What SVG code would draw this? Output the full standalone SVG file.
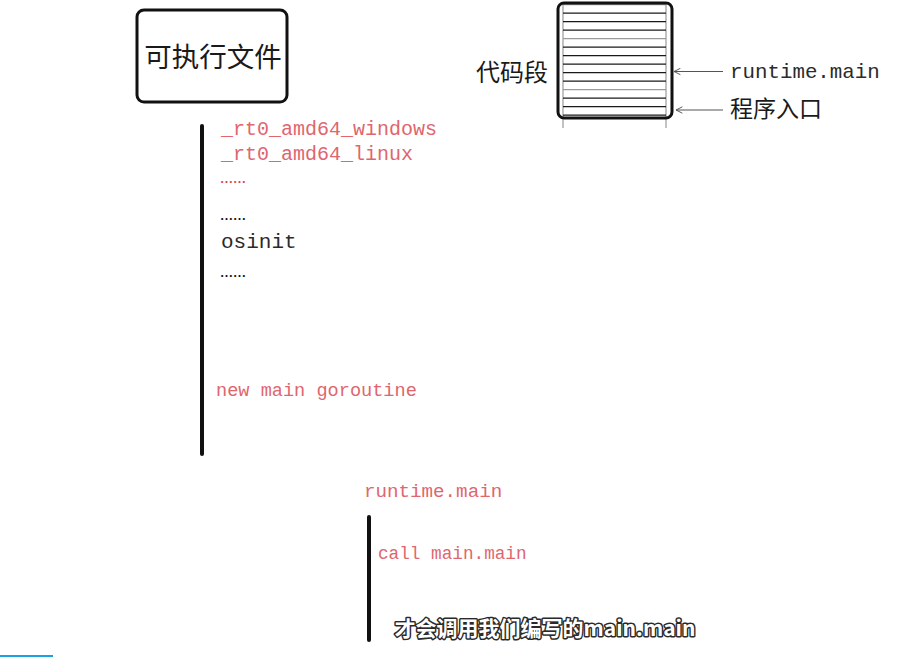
<svg xmlns="http://www.w3.org/2000/svg" width="907" height="657" viewBox="0 0 907 657">
<style>
  .mono { font-family: "Liberation Mono", "DejaVu Sans Mono", monospace; }
  .red { fill: #e0666e; }
  .dark { fill: #2b2b2b; }
  .cjk { font-family: "Noto Sans CJK SC", sans-serif; fill: #1a1a1a; }
  .dots { font-family: "Noto Sans CJK SC", sans-serif; font-weight: bold; font-size: 13px; }
  .bar { stroke: #111; stroke-width: 4; stroke-linecap: round; fill: none; }
  .hl { stroke: #1a1a1a; stroke-width: 1.2; }
  .hl2 { stroke: #9a9a9a; stroke-width: 1.2; }
  .arrow { stroke: #555; stroke-width: 1; fill: none; marker-end: url(#open); }
  .sub { font-family: "Noto Sans CJK SC", sans-serif; font-weight: bold; fill: #fff; stroke: #2a2a2a; stroke-width: 3; paint-order: stroke; stroke-linejoin: round; }
</style>
<defs>
  <marker id="open" viewBox="0 0 10 10" refX="9" refY="5" markerWidth="8" markerHeight="8" orient="auto" markerUnits="userSpaceOnUse">
    <path d="M1,1 L9,5 L1,9" fill="none" stroke="#555" stroke-width="1.2"/>
  </marker>
</defs>
<rect width="907" height="657" fill="#ffffff"/>

<g id="exe-file">
  <rect x="137" y="10" width="150" height="92" rx="7" fill="none" stroke="#111" stroke-width="3"/>
  <text x="213" y="67" text-anchor="middle" class="cjk" font-size="27.5">可执行文件</text>
</g>

<g id="code-segment">
  <line x1="563" y1="4" x2="563" y2="128" class="hl2"/>
  <line x1="666" y1="4" x2="666" y2="128" class="hl2"/>
  <g>
    <line x1="563" y1="4.7" x2="666" y2="4.7" class="hl2"/>
    <line x1="563" y1="13.2" x2="666" y2="13.2" class="hl"/>
    <line x1="563" y1="21.7" x2="666" y2="21.7" class="hl"/>
    <line x1="563" y1="30.2" x2="666" y2="30.2" class="hl"/>
    <line x1="563" y1="38.7" x2="666" y2="38.7" class="hl2"/>
    <line x1="563" y1="47.2" x2="666" y2="47.2" class="hl"/>
    <line x1="563" y1="55.7" x2="666" y2="55.7" class="hl"/>
    <line x1="563" y1="64.2" x2="666" y2="64.2" class="hl"/>
    <line x1="563" y1="72.7" x2="666" y2="72.7" class="hl"/>
    <line x1="563" y1="81.2" x2="666" y2="81.2" class="hl"/>
    <line x1="563" y1="89.7" x2="666" y2="89.7" class="hl2"/>
    <line x1="563" y1="98.2" x2="666" y2="98.2" class="hl"/>
    <line x1="563" y1="106.7" x2="666" y2="106.7" class="hl"/>
    <line x1="563" y1="115.2" x2="666" y2="115.2" class="hl"/>
  </g>
  <rect x="558" y="3" width="114" height="115" rx="6" fill="none" stroke="#111" stroke-width="3"/>
  <text x="512" y="81" text-anchor="middle" class="cjk" font-size="24">代码段</text>
</g>

<g id="label-runtime-main">
  <text x="730" y="78" class="mono dark" font-size="20.8">runtime.main</text>
</g>
<g id="label-entry">
  <text x="730" y="117" class="cjk" font-size="23">程序入口</text>
</g>

<g id="connectors">
  <line x1="723" y1="71.5" x2="674" y2="71.5" class="arrow"/>
  <line x1="723" y1="110" x2="676" y2="110" class="arrow"/>
  <line x1="202" y1="126" x2="202" y2="454" class="bar"/>
  <line x1="369" y1="517" x2="369" y2="640" class="bar"/>
</g>

<g id="startup-list">
  <text x="221" y="135" class="mono red" font-size="20">_rt0_amd64_windows</text>
  <text x="221" y="160" class="mono red" font-size="20">_rt0_amd64_linux</text>
  <text x="220" y="187" class="dots" fill="#e0404a">……</text>
  <text x="220" y="224" class="dots" fill="#111">……</text>
  <text x="221" y="248" class="mono dark" font-size="21">osinit</text>
  <text x="220" y="281" class="dots" fill="#111">……</text>
  <text x="216" y="396" class="mono red" font-size="18.6">new main goroutine</text>
</g>

<g id="runtime-main">
  <text x="364" y="497" class="mono red" font-size="19.2">runtime.main</text>
  <text x="378" y="559" class="mono red" font-size="17.7">call main.main</text>
</g>

<g id="subtitle">
  <text x="545" y="636" text-anchor="middle" class="sub" font-size="21">才会调用我们编写的main.main</text>
</g>

<line x1="0" y1="656" x2="53" y2="656" stroke="#1aa3e0" stroke-width="2"/>
</svg>
